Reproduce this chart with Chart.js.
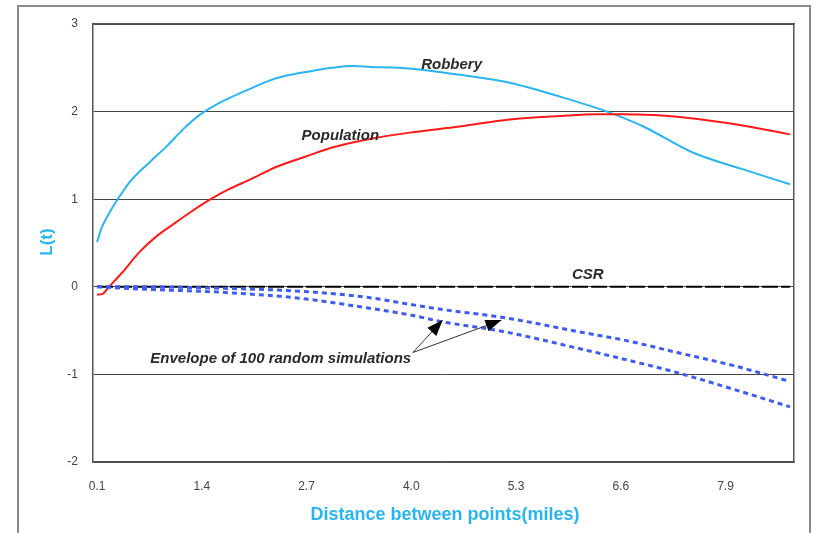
<!DOCTYPE html>
<html>
<head>
<meta charset="utf-8">
<script src="https://cdn.jsdelivr.net/npm/chart.js@4.4.1/dist/chart.umd.min.js"></script>
<style>
  html, body { margin: 0; padding: 0; background: #fff; }
  #wrap { width: 820px; height: 533px; position: relative; }
</style>
</head>
<body>
<div id="wrap"><canvas id="chart"></canvas></div>
<script>
// Values (distance in miles, L(t))
const xTicks = [0.1, 1.4, 2.7, 4.0, 5.3, 6.6, 7.9];
const yTicks = [-2, -1, 0, 1, 2, 3];

const robberyX = [0.1, 0.16, 0.25, 0.35, 0.5, 0.75, 0.96, 1.17, 1.37, 1.58, 1.78, 2.0, 2.2, 2.4, 2.61, 2.8, 3.02, 3.27, 3.5, 3.86, 4.2, 4.6, 5.22, 5.85, 6.43, 6.88, 7.5, 8.12, 8.7];
const robberyY = [0.51, 0.68, 0.84, 0.99, 1.19, 1.42, 1.60, 1.80, 1.96, 2.08, 2.17, 2.26, 2.34, 2.40, 2.44, 2.47, 2.50, 2.52, 2.51, 2.50, 2.47, 2.42, 2.33, 2.17, 2.00, 1.83, 1.53, 1.34, 1.17];

const populationX = [0.1, 0.17, 0.25, 0.41, 0.62, 0.83, 1.04, 1.24, 1.49, 1.75, 1.99, 2.33, 2.7, 3.02, 3.5, 3.98, 4.6, 5.22, 5.85, 6.3, 6.63, 7.0, 7.3, 7.92, 8.3, 8.7];
const populationY = [-0.09, -0.08, 0.0, 0.16, 0.39, 0.57, 0.71, 0.84, 0.99, 1.12, 1.22, 1.37, 1.49, 1.59, 1.69, 1.76, 1.83, 1.91, 1.95, 1.97, 1.97, 1.96, 1.94, 1.87, 1.81, 1.74];

const csrX = [0.1, 8.7];
const csrY = [0, 0];

const envelopeX = [0.1, 0.75, 1.37, 1.78, 2.61, 3.45, 3.98, 4.39, 5.14, 6.06, 6.7, 7.3, 8.0, 8.7];
const envelopeUpper = [0.0, 0.0, -0.01, -0.02, -0.05, -0.12, -0.20, -0.26, -0.35, -0.51, -0.62, -0.75, -0.90, -1.08];
const envelopeLower = [0.0, -0.03, -0.05, -0.07, -0.13, -0.24, -0.32, -0.40, -0.51, -0.70, -0.84, -0.98, -1.17, -1.37];

// In-plot labels (data units)
const noteText = ['Robbery', 'Population', 'CSR', 'Envelope of 100 random simulations'];
const noteX = [4.5, 3.12, 6.19, 2.38];
const noteY = [2.53, 1.72, 0.14, -0.82];

// Arrows from the envelope label to the two bands
const arrowFrom = { x: 4.02, y: -0.75 };
const arrowTipsX = [4.39, 5.12];
const arrowTipsY = [-0.38, -0.38];

const toPoints = (xs, ys) => xs.map((x, i) => ({ x: x, y: ys[i] }));

const FONT = '"Liberation Sans", Arial, sans-serif';
const LIGHT_BLUE = '#2bb5ef';

// Draws the outer frame, notes, arrows and axis titles
const decorations = {
  id: 'decorations',
  beforeDraw(chart) {
    const ctx = chart.ctx;
    ctx.save();
    ctx.fillStyle = '#fff';
    ctx.fillRect(0, 0, chart.width, chart.height);
    ctx.strokeStyle = '#8a8a8a';
    ctx.lineWidth = 2;
    ctx.strokeRect(18, 6, 792, 560);
    ctx.restore();
  },
  afterDatasetsDraw(chart) {
    const ctx = chart.ctx;
    const xs = chart.scales.x;
    const ys = chart.scales.y;
    ctx.save();

    ctx.font = 'italic bold 15px ' + FONT;
    ctx.fillStyle = '#2a2a2a';
    ctx.textAlign = 'center';
    ctx.textBaseline = 'middle';
    noteText.forEach((t, i) => {
      ctx.fillText(t, xs.getPixelForValue(noteX[i]), ys.getPixelForValue(noteY[i]));
    });

    const fx = xs.getPixelForValue(arrowFrom.x);
    const fy = ys.getPixelForValue(arrowFrom.y);
    arrowTipsX.forEach((tx, i) => {
      const px = xs.getPixelForValue(tx);
      const py = ys.getPixelForValue(arrowTipsY[i]);
      const ang = Math.atan2(py - fy, px - fx);
      ctx.strokeStyle = '#333';
      ctx.lineWidth = 1;
      ctx.beginPath();
      ctx.moveTo(fx, fy);
      ctx.lineTo(px, py);
      ctx.stroke();
      const len = 16, half = 6;
      const bx = px - len * Math.cos(ang);
      const by = py - len * Math.sin(ang);
      ctx.fillStyle = '#000';
      ctx.beginPath();
      ctx.moveTo(px, py);
      ctx.lineTo(bx + half * Math.sin(ang), by - half * Math.cos(ang));
      ctx.lineTo(bx - half * Math.sin(ang), by + half * Math.cos(ang));
      ctx.closePath();
      ctx.fill();
    });

    // axis titles
    ctx.fillStyle = LIGHT_BLUE;
    ctx.font = 'bold 18px ' + FONT;
    ctx.fillText('Distance between points(miles)', 445, 515);
    ctx.translate(47, 242);
    ctx.rotate(-Math.PI / 2);
    ctx.font = 'bold 17px ' + FONT;
    ctx.fillText('L(t)', 0, 0);
    ctx.restore();
  }
};

const lineBase = {
  fill: false,
  pointRadius: 0,
  tension: 0.4,
  cubicInterpolationMode: 'monotone'
};

new Chart(document.getElementById('chart'), {
  type: 'line',
  data: {
    datasets: [
      Object.assign({}, lineBase, {
        label: 'Envelope upper',
        data: toPoints(envelopeX, envelopeUpper),
        borderColor: '#3f5cf0',
        borderWidth: 3,
        borderDash: [5, 4]
      }),
      Object.assign({}, lineBase, {
        label: 'Envelope lower',
        data: toPoints(envelopeX, envelopeLower),
        borderColor: '#3f5cf0',
        borderWidth: 3,
        borderDash: [5, 4]
      }),
      Object.assign({}, lineBase, {
        label: 'CSR',
        data: toPoints(csrX, csrY),
        borderColor: '#000',
        borderWidth: 2,
        borderDash: [16, 3],
        tension: 0
      }),
      Object.assign({}, lineBase, {
        label: 'Population',
        data: toPoints(populationX, populationY),
        borderColor: '#ff1a1a',
        borderWidth: 2
      }),
      Object.assign({}, lineBase, {
        label: 'Robbery',
        data: toPoints(robberyX, robberyY),
        borderColor: LIGHT_BLUE,
        borderWidth: 2
      })
    ]
  },
  options: {
    responsive: true,
    maintainAspectRatio: false,
    animation: false,
    layout: {
      padding: { left: 0, top: 24, right: 26, bottom: 0 }
    },
    plugins: {
      legend: { display: false },
      tooltip: { enabled: false }
    },
    scales: {
      x: {
        type: 'linear',
        min: 0.05,
        max: 8.75,
        afterBuildTicks: (axis) => {
          axis.ticks = xTicks.map(v => ({ value: v }));
        },
        afterFit: (axis) => { axis.height = 71; },
        ticks: {
          color: '#444',
          font: { size: 12, family: FONT },
          padding: 17,
          maxRotation: 0,
          callback: (v) => v.toFixed(1)
        },
        grid: { display: false, drawTicks: false },
        border: { display: true, color: '#555', width: 1.5 }
      },
      y: {
        min: -2,
        max: 3,
        afterBuildTicks: (axis) => {
          axis.ticks = yTicks.map(v => ({ value: v }));
        },
        afterFit: (axis) => { axis.width = 93; },
        ticks: {
          color: '#444',
          font: { size: 12, family: FONT },
          padding: 15
        },
        grid: { color: '#444', lineWidth: 1, drawTicks: false },
        border: { display: true, color: '#555', width: 1.5 }
      },
      x2: {
        type: 'linear',
        position: 'top',
        display: true,
        min: 0.05,
        max: 8.75,
        ticks: { display: false },
        grid: { display: false, drawTicks: false },
        border: { display: true, color: '#555', width: 1.5 },
        afterFit: (axis) => { axis.height = 0; }
      },
      y2: {
        position: 'right',
        display: true,
        min: -2,
        max: 3,
        ticks: { display: false },
        grid: { display: false, drawTicks: false },
        border: { display: true, color: '#555', width: 1.5 },
        afterFit: (axis) => { axis.width = 0; }
      }
    }
  },
  plugins: [decorations]
});
</script>
</body>
</html>
